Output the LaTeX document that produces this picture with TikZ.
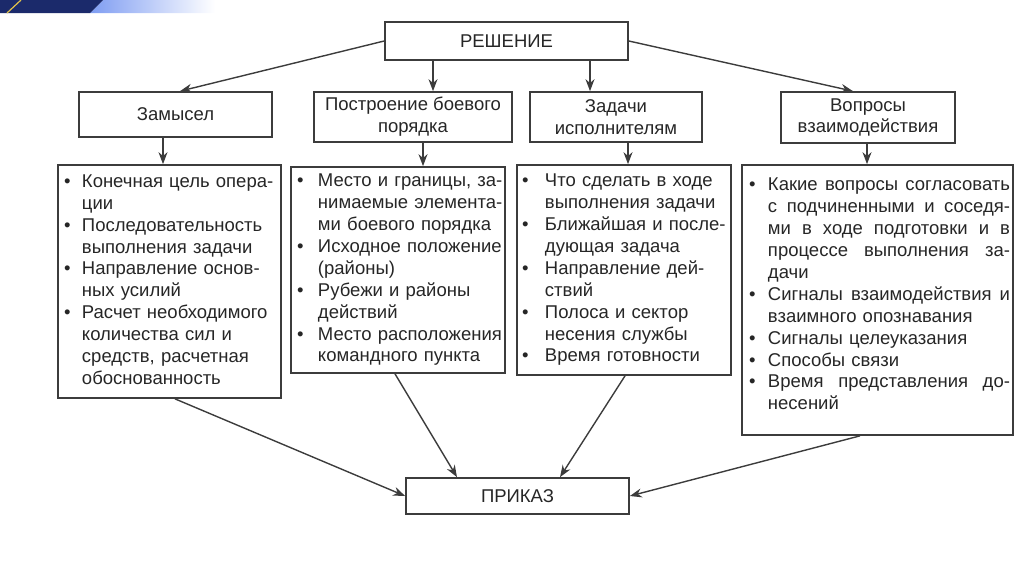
\documentclass[tikz,border=0pt]{standalone}
\usepackage{fontspec}
\setmainfont{Liberation Sans}
\usetikzlibrary{arrows.meta}
\definecolor{frameGray}{HTML}{3C3C3C}
\definecolor{slideNavy}{HTML}{1B2A6B}
\definecolor{slideBlue}{HTML}{7F9DF2}
\definecolor{slideGold}{HTML}{E2C24A}
\newcommand{\bodysize}{\fontsize{18.5}{21.9}\selectfont}
% bullet list: #1 gap after bullet, #2 rows
\newcommand{\items}[2]{%
  \begin{tabular}{@{}l@{\hspace{#1}}l@{}}#2\end{tabular}}
% justified line
\newcommand{\jline}[1]{\hbox to 242pt{\spaceskip=\fontdimen2\font plus 1fil\relax #1}}

\begin{document}
\begin{tikzpicture}[x=1pt, y=-1pt,
  every node/.style={font=\bodysize, text=black!85},
  headbox/.style={draw=frameGray, line width=1.7pt, align=center, inner sep=0pt},
  listbox/.style={draw=frameGray, line width=1.7pt, align=left,
    inner xsep=6pt, inner ysep=0pt},
  link/.style={-{Stealth[length=12pt,width=9pt]}, line width=1.4pt, frameGray}]
  \useasboundingbox (0,0) rectangle (1024,574);
  % slide corner
  \shade[left color=slideBlue, right color=white] (90,13) -- (103,0) -- (215,0) -- (215,13) -- cycle;
  \fill[slideNavy] (0,0) -- (103,0) -- (90,13) -- (0,13) -- cycle;
  \draw[slideGold, line width=1.2pt] (7,13) -- (21,0);

  % top and middle row
  \node[headbox, minimum width=243pt, minimum height=38pt] (resh) at (506.5,41) {РЕШЕНИЕ};
  \node[headbox, minimum width=193pt, minimum height=45pt] (zam) at (175.5,114.5) {Замысел};
  \node[headbox, minimum width=198pt, minimum height=50pt] (postr) at (413,117) {Построение боевого\\порядка};
  \node[headbox, minimum width=172pt, minimum height=50pt] (zad) at (616,117) {Задачи\\исполнителям};
  \node[headbox, minimum width=174pt, minimum height=51pt] (vopr) at (868,117.5) {Вопросы\\взаимодействия};

  % lists
  \node[listbox, text width=211pt, minimum height=233pt] (zamL) at (169.5,281.5) {\items{11.5pt}{%
    • & Конечная цель опера-\\ & ции\\
    • & Последовательность\\ & выполнения задачи\\
    • & Направление основ-\\ & ных усилий\\
    • & Расчет необходимого\\ & количества сил и\\ & средств, расчетная\\ & обоснованность}};
  \node[listbox, text width=202pt, minimum height=206pt] (postrL) at (398,270) {\items{14.5pt}{%
    • & Место и границы, за-\\ & нимаемые элемента-\\ & ми боевого порядка\\
    • & Исходное положение\\ & (районы)\\
    • & Рубежи и районы\\ & действий\\
    • & Место расположения\\ & командного пункта}};
  \node[listbox, inner xsep=5pt, text width=204pt, minimum height=210pt] (zadL) at (624,270) {\items{16.5pt}{%
    • & Что сделать в ходе\\ & выполнения задачи\\
    • & Ближайшая и после-\\ & дующая задача\\
    • & Направление дей-\\ & ствий\\
    • & Полоса и сектор\\ & несения службы\\
    • & Время готовности}};
  \node[listbox, inner xsep=7pt, text width=257pt, minimum height=270pt] (voprL) at (877.5,300) {\items{12.5pt}{%
    • & \jline{Какие вопросы согласовать}\\ & \jline{с подчиненными и соседя-}\\
      & \jline{ми в ходе подготовки и в}\\ & \jline{процессе выполнения за-}\\ & дачи\\
    • & \jline{Сигналы взаимодействия и}\\ & взаимного опознавания\\
    • & Сигналы целеуказания\\
    • & Способы связи\\
    • & \jline{Время представления до-}\\ & несений\\[8pt]}};

  \node[headbox, minimum width=223pt, minimum height=36pt] (prikaz) at (517.5,496) {ПРИКАЗ};

  % connectors
  \draw[link] (resh.west) -- ([xshift=4.5]zam.north);
  \draw[link] ([xshift=-73.5]resh.south) -- ([xshift=20]postr.north);
  \draw[link] ([xshift=83.5]resh.south) -- ([xshift=-26]zad.north);
  \draw[link] (resh.east) -- ([xshift=-15]vopr.north);
  \draw[link] ([xshift=-12.5]zam.south) -- ([xshift=-6.5]zamL.north);
  \draw[link] ([xshift=10]postr.south) -- ([xshift=25]postrL.north);
  \draw[link] ([xshift=12]zad.south) -- ([xshift=4]zadL.north);
  \draw[link] ([xshift=-1]vopr.south) -- ([xshift=-10.5]voprL.north);
  \draw[link] ([xshift=5.5]zamL.south) -- (prikaz.west);
  \draw[link] ([xshift=-3]postrL.south) -- ([xshift=-60.5]prikaz.north);
  \draw[link] ([xshift=1]zadL.south) -- ([xshift=42.5]prikaz.north);
  \draw[link] ([xshift=-17.5]voprL.south) -- (prikaz.east);
\end{tikzpicture}
\end{document}
